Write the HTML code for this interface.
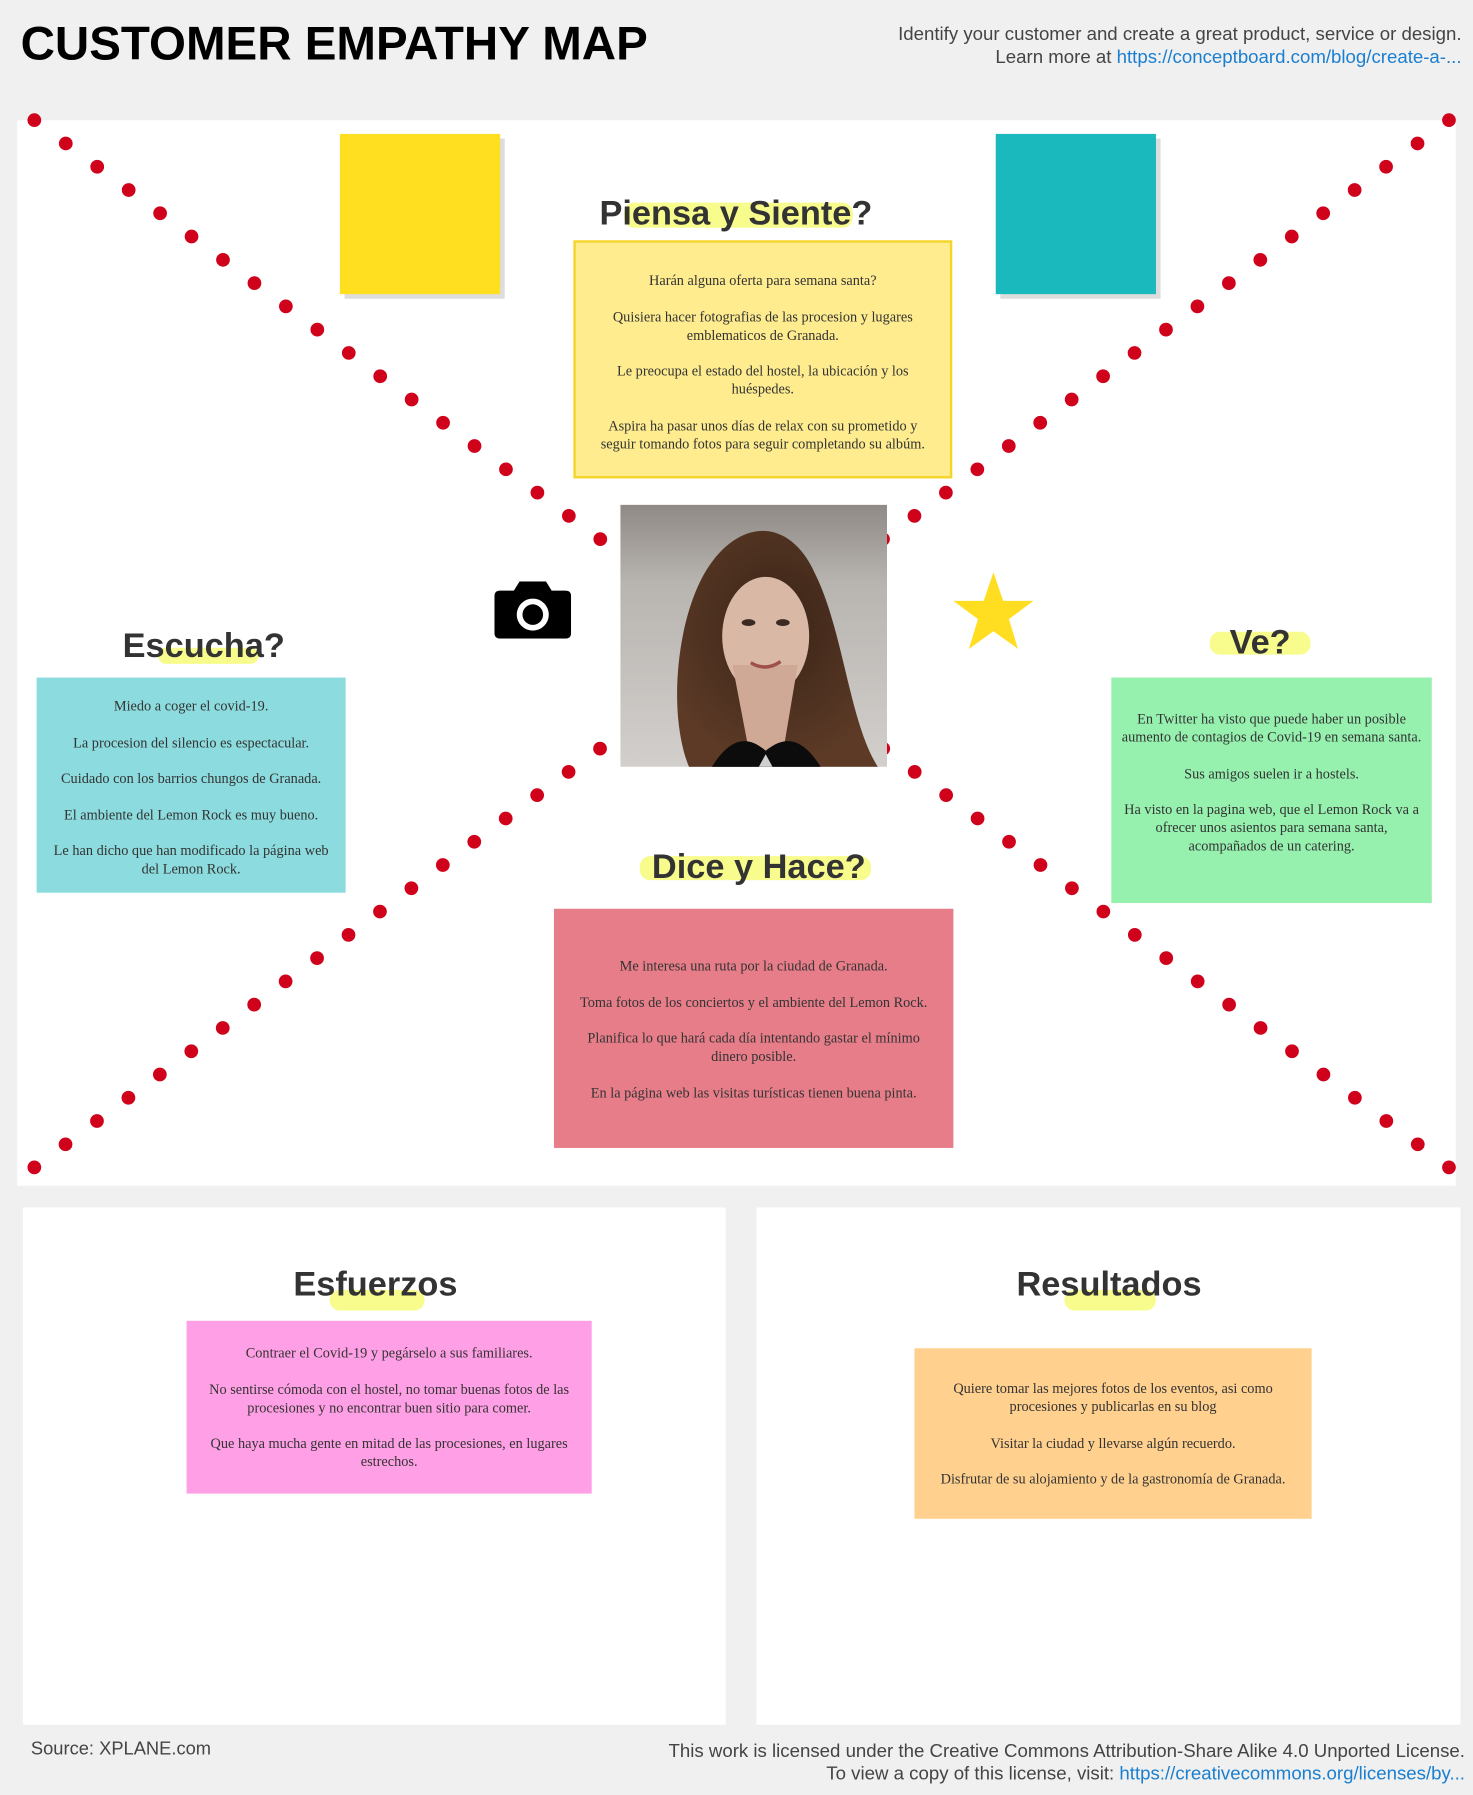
<!DOCTYPE html>
<html><head><meta charset="utf-8"><style>
html,body{margin:0;padding:0;}
body{width:1473px;height:1794px;overflow:hidden;background:#f0f0f0;font-family:"Liberation Sans",sans-serif;}
#w{position:absolute;left:0;top:0;width:1287px;height:1568px;transform:scale(1.14452);transform-origin:0 0;}
.a{position:absolute;}
.h{position:absolute;font-weight:bold;font-size:30px;color:#333;text-align:center;white-space:nowrap;}
.hl{position:absolute;background:#f8fc8c;border-radius:9px;}
.box{position:absolute;font-family:"Liberation Serif",serif;font-size:12.5px;line-height:16px;color:#333;text-align:center;box-sizing:border-box;}
.box p{margin:0 0 15.5px 0;}
</style></head><body><div id="w">
<div class="a" style="left:18px;top:14px;font-size:41.5px;font-weight:bold;color:#000;">CUSTOMER EMPATHY MAP</div>
<div class="a" style="right:10px;top:20px;font-size:16.3px;line-height:20px;color:#444;text-align:right;">Identify your customer and create a great product, service or design.<br>Learn more at <span style="color:#1a7fd0">https://conceptboard.com/blog/create-a-...</span></div>

<div class="a" style="left:15px;top:105px;width:1257px;height:931px;background:#fff;"></div>
<svg class="a" style="left:0;top:0" width="1287" height="1100">
<g stroke="#d0021b" stroke-width="12" stroke-linecap="round" stroke-dasharray="0 34.18">
<line x1="30" y1="105" x2="1266" y2="1020"/>
<line x1="1266" y1="105" x2="30" y2="1020"/>
</g>
<circle cx="30" cy="1020" r="6" fill="#d0021b"/><circle cx="1266" cy="1020" r="6" fill="#d0021b"/>
</svg>

<div class="a" style="left:301px;top:121px;width:140px;height:140px;background:#ddd;"></div>
<div class="a" style="left:297px;top:117px;width:140px;height:140px;background:#ffdf20;"></div>
<div class="a" style="left:874px;top:121px;width:140px;height:140px;background:#ddd;"></div>
<div class="a" style="left:870px;top:117px;width:140px;height:140px;background:#1ab9bd;"></div>

<div class="hl" style="left:545px;top:177px;width:200px;height:22px;"></div>
<div class="h" style="left:443px;width:400px;top:170px;">Piensa y Siente?</div>
<div class="box" style="left:501px;top:210px;width:331px;height:208px;background:#feec8f;border:2px solid #f5d327;padding:25px 14px 0;">
<p>Harán alguna oferta para semana santa?</p><p>Quisiera hacer fotografias de las procesion y lugares emblematicos de Granada.</p><p>Le preocupa el estado del hostel, la ubicación y los huéspedes.</p><p>Aspira ha pasar unos días de relax con su prometido y seguir tomando fotos para seguir completando su albúm.</p></div>

<svg class="a" style="left:542px;top:441px" width="233" height="229">
<defs><linearGradient id="bg" x1="0" y1="0" x2="0" y2="1"><stop offset="0" stop-color="#8f8a86"/><stop offset="0.3" stop-color="#b8b4b0"/><stop offset="1" stop-color="#d2cfcc"/></linearGradient>
<radialGradient id="hair" cx="0.5" cy="0.4" r="0.6"><stop offset="0" stop-color="#3a2418"/><stop offset="1" stop-color="#5c3a26"/></radialGradient></defs>
<rect width="233" height="229" fill="url(#bg)"/>
<path d="M60 229 C40 180 50 90 80 50 C110 10 150 15 170 60 C195 110 200 190 225 229 Z" fill="url(#hair)"/>
<ellipse cx="127" cy="115" rx="38" ry="52" fill="#d9b8a6"/>
<path d="M98 140 L115 229 L140 229 L155 140 Z" fill="#cfa996"/>
<path d="M80 229 C95 205 110 200 127 215 C145 200 160 205 175 229 Z" fill="#0c0c0c"/>
<path d="M121 229 L127 218 L133 229 Z" fill="#d0d0d0"/>
<ellipse cx="112" cy="103" rx="6" ry="3" fill="#3a2a22"/><ellipse cx="142" cy="103" rx="6" ry="3" fill="#3a2a22"/>
<path d="M114 138 Q127 146 140 137" stroke="#a0504a" stroke-width="3" fill="none"/>
</svg>

<svg class="a" style="left:432px;top:508px" width="67" height="50" viewBox="0 0 67 50">
<path d="M22 0 H45 L50 8 H62 Q67 8 67 13 V45 Q67 50 62 50 H5 Q0 50 0 45 V13 Q0 8 5 8 H17 Z" fill="#000"/>
<circle cx="33.5" cy="29" r="14" fill="#fff"/><circle cx="33.5" cy="29" r="9" fill="#000"/>
</svg>
<svg class="a" style="left:832px;top:500px" width="72" height="68" viewBox="0 0 72 68">
<polygon points="36,0 44.5,25 71,25 49.5,41 57.5,67 36,51.5 14.5,67 22.5,41 1,25 27.5,25" fill="#ffde21"/></svg>

<div class="hl" style="left:138px;top:566px;width:88px;height:14px;"></div>
<div class="h" style="left:78px;width:200px;top:548px;">Escucha?</div>
<div class="box" style="left:32px;top:592px;width:270px;height:188px;background:#8cdcdf;padding:17px 8px 0;">
<p>Miedo a coger el covid-19.</p><p>La procesion del silencio es espectacular.</p><p>Cuidado con los barrios chungos de Granada.</p><p>El ambiente del Lemon Rock es muy bueno.</p><p>Le han dicho que han modificado la página web del Lemon Rock.</p></div>

<div class="hl" style="left:1057px;top:552px;width:88px;height:20px;"></div>
<div class="h" style="left:1001px;width:200px;top:545px;">Ve?</div>
<div class="box" style="left:971px;top:592px;width:280px;height:197px;background:#96f0ae;padding:28px 8px 0;">
<p>En Twitter ha visto que puede haber un posible aumento de contagios de Covid-19 en semana santa.</p><p>Sus amigos suelen ir a hostels.</p><p>Ha visto en la pagina web, que el Lemon Rock va a ofrecer unos asientos para semana santa, acompañados de un catering.</p></div>

<div class="hl" style="left:559px;top:748px;width:202px;height:21px;"></div>
<div class="h" style="left:463px;width:400px;top:741px;">Dice y Hace?</div>
<div class="box" style="left:484px;top:794px;width:349px;height:209px;background:#e77d89;padding:42px 12px 0;">
<p>Me interesa una ruta por la ciudad de Granada.</p><p>Toma fotos de los conciertos y el ambiente del Lemon Rock.</p><p>Planifica lo que hará cada día intentando gastar el mínimo dinero posible.</p><p>En la página web las visitas turísticas tienen buena pinta.</p></div>

<div class="a" style="left:20px;top:1055px;width:614px;height:452px;background:#fff;"></div>
<div class="a" style="left:661px;top:1055px;width:615px;height:452px;background:#fff;"></div>

<div class="hl" style="left:288px;top:1127px;width:83px;height:18px;"></div>
<div class="h" style="left:228px;width:200px;top:1106px;">Esfuerzos</div>
<div class="box" style="left:163px;top:1154px;width:354px;height:151px;background:#ffa0e6;padding:20px 12px 0;">
<p>Contraer el Covid-19 y pegárselo a sus familiares.</p><p>No sentirse cómoda con el hostel, no tomar buenas fotos de las procesiones y no encontrar buen sitio para comer.</p><p>Que haya mucha gente en mitad de las procesiones, en lugares estrechos.</p></div>

<div class="hl" style="left:930px;top:1127px;width:80px;height:18px;"></div>
<div class="h" style="left:869px;width:200px;top:1106px;">Resultados</div>
<div class="box" style="left:799px;top:1178px;width:347px;height:149px;background:#ffd08e;padding:27px 8px 0;">
<p>Quiere tomar las mejores fotos de los eventos, asi como procesiones y publicarlas en su blog</p><p>Visitar la ciudad y llevarse algún recuerdo.</p><p>Disfrutar de su alojamiento y de la gastronomía de Granada.</p></div>

<div class="a" style="left:27px;top:1520px;font-size:16px;color:#444;">Source: XPLANE.com</div>
<div class="a" style="right:7px;top:1520px;font-size:16.3px;line-height:20px;color:#444;text-align:right;">This work is licensed under the Creative Commons Attribution-Share Alike 4.0 Unported License.<br>To view a copy of this license, visit: <span style="color:#1a7fd0">https://creativecommons.org/licenses/by...</span></div>
</div></body></html>
